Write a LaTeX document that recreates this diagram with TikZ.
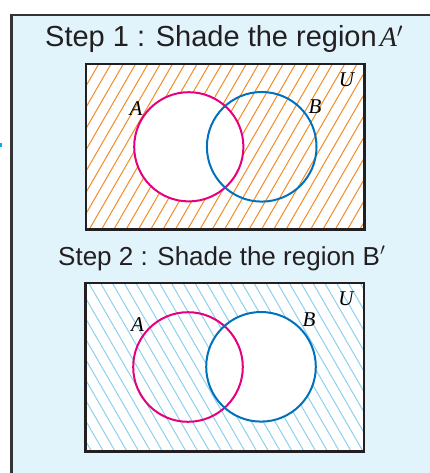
\documentclass[tikz,border=0pt]{standalone}
\usepackage{fontspec}
\setmainfont{Liberation Sans}
\newfontfamily\timesf{Liberation Serif}
\definecolor{panelfill}{HTML}{E1F3FB}
\definecolor{panelborder}{HTML}{333333}
\definecolor{boxblack}{HTML}{231F20}
\definecolor{pinkA}{HTML}{E6007E}
\definecolor{blueB}{HTML}{0072BC}
\definecolor{orangeH}{HTML}{F28C28}
\definecolor{blueH}{HTML}{8ED0EE}
\definecolor{dotcyan}{HTML}{00AEEF}
\tikzset{
  panel/.style={draw=panelborder, line width=2.5pt, fill=panelfill},
  venbox/.style={draw=boxblack, line width=2.6pt},
  setA/.style={draw=pinkA, line width=2pt},
  setB/.style={draw=blueB, line width=2pt},
  hatchO/.style={draw=orangeH, line width=1pt},
  hatchB/.style={draw=blueH, line width=1pt},
  lbl/.style={font=\timesf\itshape\fontsize{21}{21}\selectfont, inner sep=0pt},
  title/.style={inner sep=0pt, anchor=base west, text=boxblack}
}
\begin{document}
\begin{tikzpicture}[x=1pt,y=-1pt]
\useasboundingbox (0,0) rectangle (430,473);
\clip (0,0) rectangle (430,473);
% outer panel
\draw[panel] (11.5,15) rectangle (445,490);
\fill[dotcyan] (0,143.5) rectangle (1.7,147);
% titles
\node[title, font=\fontsize{29}{29}\selectfont] (t1) at (45,47)
  {Step 1 : Shade the region\hspace{3pt}{\fontsize{28}{28}\selectfont\timesf\itshape A$'$}};
\node[title, font=\fontsize{26}{26}\selectfont] (t2) at (58,265)
  {Step 2 : Shade the region B$'$};
% step 1 venn
\begin{scope}
  \clip (86,64) rectangle (364.7,229.5);
  \fill[white] (86,64) rectangle (364.7,229.5);
  \foreach \i in {-10,...,25} \draw[hatchO] ({86+\i*12.3},235) -- ++(104,-180);
  \fill[white] (188.8,146.8) circle (54.6);
\end{scope}
\draw[venbox] (86,64) rectangle (364.7,229.5);
\draw[setA] (188.8,146.8) circle (54.6);
\draw[setB] (261.7,146.8) circle (54.8);
\node[lbl] (a1) at (136,108.5) {A};
\node[lbl] (b1) at (315,107) {B};
\node[lbl] (u1) at (346.5,80) {U};
% step 2 venn
\begin{scope}
  \clip (85.3,283) rectangle (364,451.3);
  \fill[white] (85.3,283) rectangle (364,451.3);
  \foreach \i in {-10,...,26} \draw[hatchB] ({87+\i*11.8},280) -- ++(104,180);
  \fill[white] (261,366.8) circle (54.8);
\end{scope}
\draw[venbox] (85.3,283) rectangle (364,451.3);
\draw[setA] (188,367) circle (54.8);
\draw[setB] (261,366.8) circle (54.8);
\node[lbl] (a2) at (137.5,325) {A};
\node[lbl] (b2) at (309,320) {B};
\node[lbl] (u2) at (346,299) {U};
\end{tikzpicture}
\end{document}
